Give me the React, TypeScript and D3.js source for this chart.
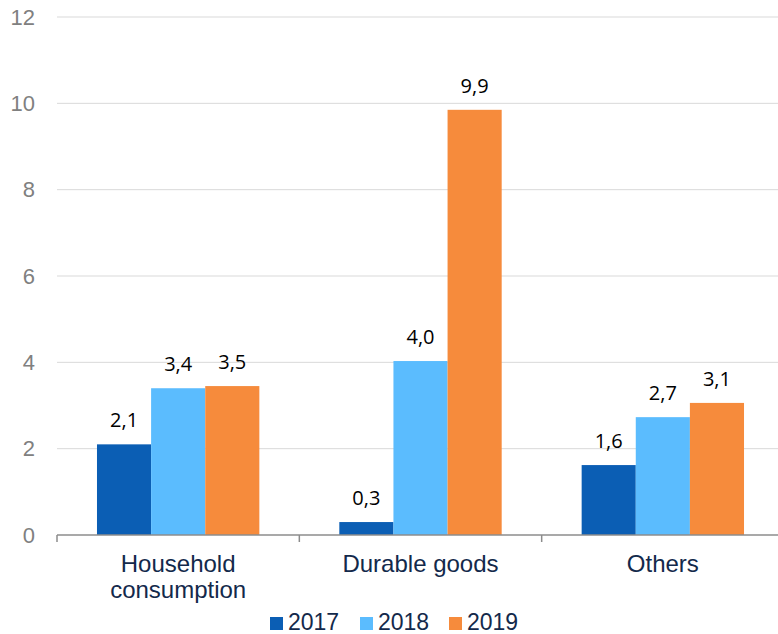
import React from "react";
import * as d3 from "d3";

const categories = [["Household", "consumption"], ["Durable goods"], ["Others"]];
const categoryKeys = ["Household consumption", "Durable goods", "Others"];
const seriesNames = ["2017", "2018", "2019"];
const values2017 = [2.1, 0.3, 1.62];
const values2018 = [3.4, 4.03, 2.73];
const values2019 = [3.45, 9.85, 3.06];
const labels2017 = ["2,1", "0,3", "1,6"];
const labels2018 = ["3,4", "4,0", "2,7"];
const labels2019 = ["3,5", "9,9", "3,1"];
const yTicks = [0, 2, 4, 6, 8, 10, 12];
const colors = ["#0b5eb4", "#5bbcfe", "#f68b3c"];

export default function App() {
  const W = 778, H = 634;
  const left = 57, right = 784, top = 17, bottom = 535;
  const series = [values2017, values2018, values2019];
  const labels = [labels2017, labels2018, labels2019];
  const x = d3.scaleBand<string>().domain(categoryKeys).range([left, right]).paddingInner(0).paddingOuter(0);
  const y = d3.scaleLinear().domain([0, 12]).range([bottom, top]);
  const groupW = x.bandwidth() * 0.67;
  const xs = d3.scaleBand<string>().domain(seriesNames).range([0, groupW]);
  const boundaries = [left, ...categoryKeys.map((c) => (x(c) as number) + x.bandwidth())];
  const legendX = [270, 360, 449];

  return (
    <svg width={W} height={H} style={{ position: "absolute", left: 0, top: 0 }}>
      {yTicks.filter((t) => t > 0).map((t) => (
        <line key={t} x1={left} x2={W} y1={y(t)} y2={y(t)} stroke="#d9d9d9" strokeWidth={1} />
      ))}
      {yTicks.map((t) => (
        <text key={t} x={35} y={y(t)} dy="0.35em" textAnchor="end" fill="#808080"
          fontFamily="Liberation Sans, Arial, sans-serif" fontSize={22}>{t}</text>
      ))}
      {categoryKeys.map((c, ci) =>
        series.map((vals, si) => {
          const bx = (x(c) as number) + (x.bandwidth() - groupW) / 2 + (xs(seriesNames[si]) as number);
          const v = vals[ci];
          return (
            <g key={c + si}>
              <rect x={bx} y={y(v)} width={xs.bandwidth()} height={y(0) - y(v)} fill={colors[si]} />
              <text x={bx + xs.bandwidth() / 2} y={y(v) - 17} textAnchor="middle" fill="#000"
                fontFamily="Open Sans, sans-serif" fontSize={20}>{labels[si][ci]}</text>
            </g>
          );
        })
      )}
      <line x1={left} x2={W} y1={bottom} y2={bottom} stroke="#8c8c8c" strokeWidth={1.5} />
      {boundaries.map((b, i) => (
        <line key={i} x1={b} x2={b} y1={bottom} y2={bottom + 7} stroke="#8c8c8c" strokeWidth={1.5} />
      ))}
      {categoryKeys.map((c, ci) => (
        <text key={c} x={(x(c) as number) + x.bandwidth() / 2} textAnchor="middle" fill="#13294b"
          fontFamily="Liberation Sans, Arial, sans-serif" fontSize={24}>
          {categories[ci].map((line, li) => (
            <tspan key={li} x={(x(c) as number) + x.bandwidth() / 2} y={572 + li * 26}>{line}</tspan>
          ))}
        </text>
      ))}
      {seriesNames.map((s, si) => (
        <g key={s}>
          <rect x={legendX[si]} y={617} width={13} height={13} fill={colors[si]} />
          <text x={legendX[si] + 18} y={630} fill="#13294b"
            fontFamily="Liberation Sans, Arial, sans-serif" fontSize={23}>{s}</text>
        </g>
      ))}
    </svg>
  );
}
